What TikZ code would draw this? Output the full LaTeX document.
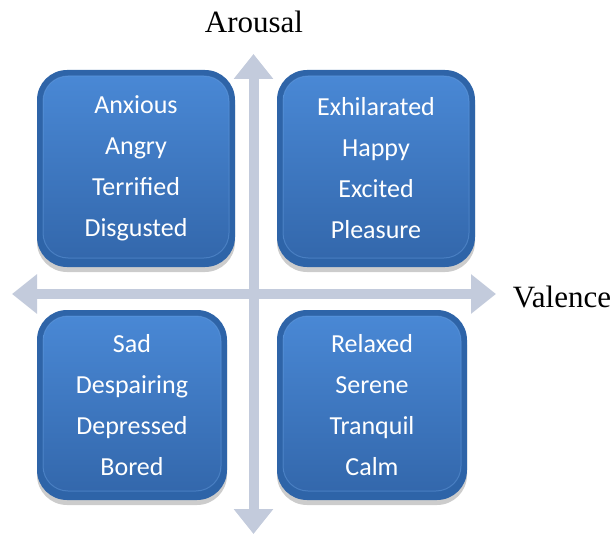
\documentclass[tikz,border=0pt]{standalone}
\usepackage{fontspec}
\setmainfont{Liberation Serif}
\newfontfamily\boxfont{Carlito}
\usetikzlibrary{arrows.meta,shadows}
\definecolor{boxedge}{RGB}{46,100,168}
\definecolor{boxtop}{RGB}{74,137,214}
\definecolor{boxbot}{RGB}{50,102,170}
\definecolor{boxrim}{RGB}{110,165,230}
\definecolor{axiscol}{RGB}{195,203,220}
\tikzset{
  quadbox/.style={rounded corners=30pt, inner sep=0pt, fill=boxedge,
    drop shadow={opacity=0.4, shadow xshift=0pt, shadow yshift=-5pt},
    text=white, align=center,
    font=\boxfont\fontsize{26}{41}\selectfont,
    path picture={
      \shade[top color=boxtop, bottom color=boxbot, rounded corners=25pt]
        ([shift={(6pt,-6pt)}]path picture bounding box.north west) rectangle
        ([shift={(-6pt,9pt)}]path picture bounding box.south east);
      \draw[boxrim, line width=1pt, opacity=0.4, rounded corners=25pt]
        ([shift={(6pt,-6pt)}]path picture bounding box.north west) rectangle
        ([shift={(-6pt,9pt)}]path picture bounding box.south east);
    }},
  axisline/.style={draw=axiscol, line width=10pt,
    arrows={Triangle[width=38pt,length=25pt,fill=axiscol]-Triangle[width=38pt,length=25pt,fill=axiscol]}},
  axislabel/.style={font=\fontsize{31}{36}\selectfont, inner sep=0pt}
}
\begin{document}
\begin{tikzpicture}[x=1pt,y=-1pt]
\useasboundingbox (0,0) rectangle (616,535);
% axes
\coordinate (vtop) at (253.5,54);
\coordinate (vbot) at (253.5,534);
\coordinate (hleft) at (12,294);
\coordinate (hright) at (496,294);
\draw[axisline] (hleft) -- (hright);
\draw[axisline] (vtop) -- (vbot);
% boxes
\node[quadbox, minimum width=198pt, minimum height=197pt] (tl) at (136,168.5)
  {Anxious\\Angry\\Terrified\\Disgusted};
\node[quadbox, minimum width=198pt, minimum height=197pt] (tr) at (376,168.5)
  {Exhilarated\\Happy\\Excited\\Pleasure};
\node[quadbox, minimum width=190pt, minimum height=190pt] (bl) at (132,405)
  {Sad\\Despairing\\Depressed\\Bored};
\node[quadbox, minimum width=190pt, minimum height=190pt] (br) at (372,405)
  {Relaxed\\Serene\\Tranquil\\Calm};
% labels
\node[axislabel] (arousal) at (254,22) {Arousal};
\node[axislabel] (valence) at (562,297) {Valence};
\end{tikzpicture}
\end{document}
